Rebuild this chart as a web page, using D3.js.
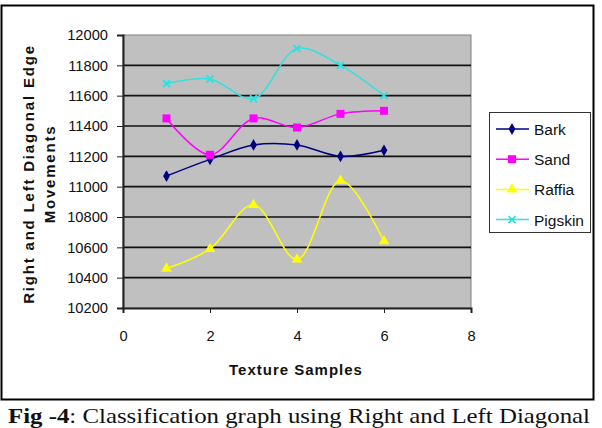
<!DOCTYPE html>
<html>
<head>
<meta charset="utf-8">
<script src="https://cdn.jsdelivr.net/npm/d3@7"></script>
<style>
  body { margin: 0; background: #fff; }
  svg { display: block; }
</style>
</head>
<body>
<div id="chart"></div>
<script>
// data
var samples = [1, 2, 3, 4, 5, 6];
var barkValues = [11070, 11180, 11275, 11275, 11200, 11240];
var sandValues = [11450, 11210, 11450, 11390, 11480, 11500];
var raffiaValues = [10460, 10590, 10880, 10520, 11040, 10640];
var pigskinValues = [11680, 11710, 11580, 11910, 11800, 11600];
var seriesNames = ["Bark", "Sand", "Raffia", "Pigskin"];
var xTicks = [0, 2, 4, 6, 8];
var yTicks = [10200, 10400, 10600, 10800, 11000, 11200, 11400, 11600, 11800, 12000];

var svgWidth = 602;
var svgHeight = 428;
var sans = "'Liberation Sans', Arial, sans-serif";

// plot area
var margin = { top: 35, right: 131, bottom: 120, left: 123 };
var chartWidth = svgWidth - margin.left - margin.right;
var chartHeight = svgHeight - margin.top - margin.bottom;

var svg = d3.select("#chart")
    .append("svg")
    .attr("width", svgWidth)
    .attr("height", svgHeight);

// outer frame
svg.append("rect")
    .attr("x", 1.5).attr("y", 5.5)
    .attr("width", 592).attr("height", 394)
    .attr("fill", "#fff")
    .attr("stroke", "#000")
    .attr("stroke-width", 2);

var chartGroup = svg.append("g")
    .attr("transform", `translate(${margin.left}, ${margin.top})`);

var xScale = d3.scaleLinear().domain([0, 8]).range([0, chartWidth]);
var yScale = d3.scaleLinear().domain([10200, 12000]).range([chartHeight, 0]);

chartGroup.append("rect")
    .attr("width", chartWidth)
    .attr("height", chartHeight)
    .attr("fill", "#c0c0c0")
    .attr("stroke", "#808080")
    .attr("stroke-width", 1);

// gridlines
chartGroup.selectAll(".grid")
    .data(yTicks.slice(1, -1))
    .enter()
    .append("line")
    .attr("x1", 0)
    .attr("x2", chartWidth)
    .attr("y1", d => yScale(d))
    .attr("y2", d => yScale(d))
    .attr("stroke", "#111")
    .attr("stroke-width", 1.6);

// axes
var leftAxis = d3.axisLeft(yScale).tickValues(yTicks).tickFormat(d3.format("d"))
    .tickSize(6).tickPadding(9);
var bottomAxis = d3.axisBottom(xScale).tickValues(xTicks).tickSize(5).tickPadding(18);

var yAxisG = chartGroup.append("g").call(leftAxis);
var xAxisG = chartGroup.append("g")
    .attr("transform", `translate(0, ${chartHeight})`)
    .call(bottomAxis);

[yAxisG, xAxisG].forEach(function (g) {
    g.select(".domain").attr("stroke", "#222").attr("stroke-width", 2);
    g.selectAll(".tick line").attr("stroke", "#222");
    g.selectAll("text")
        .attr("fill", "#111")
        .style("font-family", sans)
        .style("font-size", "14.7px");
});

// series
var colors = ["#000080", "#ff00ff", "#ffff00", "#33e0e0"];
var allValues = [barkValues, sandValues, raffiaValues, pigskinValues];
var seriesData = seriesNames.map(function (name, i) {
    return {
        name: name,
        color: colors[i],
        points: samples.map((s, j) => ({ x: s, y: allValues[i][j] }))
    };
});

var line = d3.line()
    .x(d => xScale(d.x))
    .y(d => yScale(d.y))
    .curve(d3.curveCatmullRom.alpha(0.5));

// marker shapes
function drawMarker(g, type, color) {
    if (type === 0) {
        g.append("path").attr("d", d3.symbol(d3.symbolDiamond, 40)()).attr("fill", color);
    } else if (type === 1) {
        g.append("rect").attr("x", -4).attr("y", -4).attr("width", 8).attr("height", 8).attr("fill", color);
    } else if (type === 2) {
        g.append("path").attr("d", d3.symbol(d3.symbolTriangle, 50)()).attr("fill", color);
    } else {
        g.append("path").attr("d", "M-3.5,-3.5L3.5,3.5M-3.5,3.5L3.5,-3.5")
            .attr("stroke", color).attr("stroke-width", 2);
    }
}

seriesData.forEach(function (s, i) {
    chartGroup.append("path")
        .datum(s.points)
        .attr("fill", "none")
        .attr("stroke", s.color)
        .attr("stroke-width", 1.5)
        .attr("d", line);

    s.points.forEach(function (p) {
        var g = chartGroup.append("g")
            .attr("transform", `translate(${xScale(p.x)}, ${yScale(p.y)})`);
        drawMarker(g, i, s.color);
    });
});

// axis titles
svg.append("text")
    .attr("x", 296)
    .attr("y", 375)
    .attr("text-anchor", "middle")
    .style("font-family", sans)
    .style("font-size", "15px")
    .style("font-weight", "bold")
    .style("letter-spacing", "1px")
    .attr("fill", "#111")
    .text("Texture Samples");

var yTitle = svg.append("text")
    .attr("transform", "translate(34, 174) rotate(-90)")
    .attr("text-anchor", "middle")
    .style("font-family", sans)
    .style("font-size", "15px")
    .style("font-weight", "bold")
    .style("letter-spacing", "1.8px")
    .attr("fill", "#111");
yTitle.append("tspan").attr("x", 0).attr("y", 0).text("Right and Left Diagonal  Edge");
yTitle.append("tspan").attr("x", 0).attr("y", 21).text("Movements");

// legend
var legend = svg.append("g").attr("transform", "translate(489, 112)");
legend.append("rect")
    .attr("x", 0.5).attr("y", 0.5)
    .attr("width", 101).attr("height", 120)
    .attr("fill", "#fff")
    .attr("stroke", "#333")
    .attr("stroke-width", 1);

seriesData.forEach(function (s, i) {
    var row = legend.append("g").attr("transform", `translate(0, ${17 + i * 30.2})`);
    row.append("line")
        .attr("x1", 7).attr("x2", 40)
        .attr("stroke", s.color).attr("stroke-width", 1.5);
    var m = row.append("g").attr("transform", "translate(23, 0)");
    drawMarker(m, i, s.color);
    row.append("text")
        .attr("x", 45).attr("y", 6)
        .style("font-family", sans)
        .style("font-size", "15.5px")
        .attr("fill", "#111")
        .text(s.name);
});

// caption below the chart
var caption = svg.append("text")
    .attr("x", 8)
    .attr("y", 423)
    .attr("textLength", 582)
    .attr("lengthAdjust", "spacingAndGlyphs")
    .style("font-family", "'Liberation Serif', 'Times New Roman', serif")
    .style("font-size", "21px")
    .attr("fill", "#111");
caption.append("tspan").style("font-weight", "bold").text("Fig -4");
caption.append("tspan").text(": Classification graph using Right and Left Diagonal");
</script>
</body>
</html>
